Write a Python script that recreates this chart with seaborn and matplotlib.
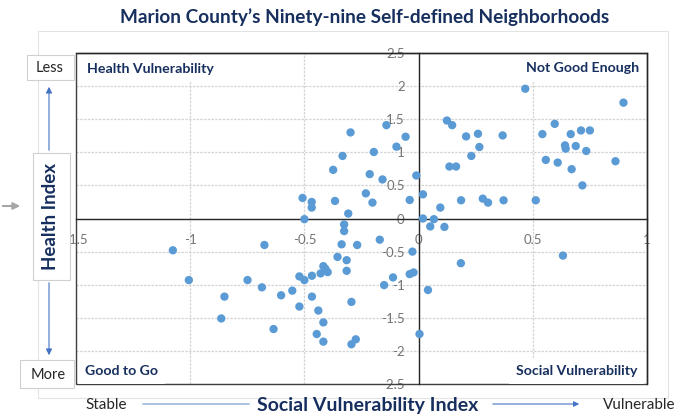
import matplotlib
matplotlib.use("Agg")
import matplotlib.pyplot as plt
import seaborn as sns
from matplotlib.patches import Rectangle, FancyArrowPatch

# social vulnerability index (x) and health index (y) for each neighborhood
social_index = [-1.076, -1.006, -0.85, -0.864, -0.749, -0.675, -0.686, -0.602, -0.635, -0.553,
                -0.522, -0.522, -0.50, -0.308, -0.326, -0.326, -0.337, -0.269, -0.17, -0.027,
                -0.355, -0.315, -0.315, -0.417, -0.398, -0.429, -0.467, -0.50, -0.112, -0.151,
                -0.039, -0.022, 0.041, -0.467, -0.294, -0.439, -0.417, -0.446, -0.417, -0.294,
                -0.275, 0.004, 0.019, 0.067, 0.051, -0.508, -0.468, -0.468, -0.366, -0.374,
                -0.333, -0.298, -0.214, -0.231, -0.202, -0.196, -0.158, -0.141, -0.097, -0.057,
                -0.039, -0.01, 0.019, 0.095, 0.467, 0.897, 0.124, 0.147, 0.208, 0.26,
                0.266, 0.368, 0.231, 0.135, 0.164, 0.186, 0.281, 0.304, 0.372, 0.513,
                0.542, 0.596, 0.666, 0.711, 0.75, 0.641, 0.644, 0.688, 0.734, 0.557,
                0.609, 0.67, 0.862, 0.717, 0.113, 0.185, 0.632, -0.408]
health_index = [-0.48, -0.93, -1.18, -1.51, -0.93, -0.40, -1.04, -1.16, -1.67, -1.09,
                -0.875, -1.33, -0.01, 0.075, -0.09, -0.19, -0.39, -0.40, -0.32, -0.50,
                -0.58, -0.63, -0.79, -0.72, -0.81, -0.83, -0.865, -0.93, -0.89, -1.006,
                -0.84, -0.815, -1.08, -1.18, -1.26, -1.39, -1.57, -1.745, -1.86, -1.90,
                -1.825, -1.745, 0.0, -0.01, -0.12, 0.31, 0.25, 0.165, 0.265, 0.735,
                0.945, 1.30, 0.67, 0.38, 0.24, 1.005, 0.59, 1.41, 1.085, 1.235,
                0.28, 0.65, 0.365, 0.165, 1.96, 1.75, 1.48, 1.41, 1.24, 1.28,
                1.08, 1.255, 0.945, 0.785, 0.785, 0.275, 0.30, 0.24, 0.275, 0.275,
                1.275, 1.43, 1.275, 1.33, 1.33, 1.105, 1.055, 1.095, 1.02, 0.885,
                0.845, 0.745, 0.865, 0.50, -0.127, -0.675, -0.56, -0.76]

x_ticks = [-1.5, -1, -0.5, 0, 0.5, 1]
y_ticks = [-2.5, -2, -1.5, -1, -0.5, 0, 0.5, 1, 1.5, 2, 2.5]

title = "Marion County\u2019s Ninety-nine Self-defined Neighborhoods"
navy = "#172F5E"
dot_blue = "#5B9BD5"
arrow_blue = "#4472C4"
box_gray = "#D0D0D0"

sns.set_style("white")
plt.rcParams['font.family'] = ['Lato', 'DejaVu Sans']
plt.rcParams['axes.unicode_minus'] = False

W, H = 682, 416
fig = plt.figure(figsize=(W / 100, H / 100), dpi=100)

# helpers to place things by pixel position in the 682x416 picture
def fx(px):
    return px / W

def fy(py):
    return 1 - py / H

ax = fig.add_axes([fx(76), fy(384), fx(647) - fx(76), fy(53) - fy(384)])

sns.scatterplot(x=social_index, y=health_index, ax=ax, color=dot_blue, s=36,
                edgecolor='none', linewidth=0, zorder=3)

ax.set_xlim(-1.5, 1)
ax.set_ylim(-2.5, 2.5)
ax.set_xticks(x_ticks)
ax.set_yticks(y_ticks)
ax.set_xticklabels([f"{t:g}" for t in x_ticks])
ax.set_yticklabels([f"{t:g}" for t in y_ticks])
ax.tick_params(length=0, labelsize=9.5, labelcolor='#737373')
ax.tick_params(axis='x', pad=11)
ax.tick_params(axis='y', pad=10)
ax.grid(True, color='#D4D4D4', linestyle=(0, (2, 1)), linewidth=0.9)
ax.set_axisbelow(True)

# excel style axes crossing at zero, with a frame round the plot
ax.spines['left'].set_position(('data', 0))
ax.spines['bottom'].set_position(('data', 0))
for s in ax.spines.values():
    s.set_color('#262626')
    s.set_linewidth(1.0)
ax.add_patch(Rectangle((0, 0), 1, 1, transform=ax.transAxes, fill=False,
                       ec='#404040', lw=1.0, clip_on=False, zorder=2))

# quadrant labels with white boxes
qbox = dict(boxstyle='square,pad=0.5', fc='white', ec='none')
ax.text(0.019, 0.952, "Health Vulnerability", transform=ax.transAxes, ha='left', va='center',
        fontsize=10.2, fontweight='bold', color=navy, bbox=qbox, zorder=5)
ax.text(0.986, 0.955, "Not Good Enough", transform=ax.transAxes, ha='right', va='center',
        fontsize=10.2, fontweight='bold', color=navy, bbox=qbox, zorder=5)
ax.text(0.016, 0.04, "Good to Go", transform=ax.transAxes, ha='left', va='center',
        fontsize=10.2, fontweight='bold', color=navy, bbox=qbox, zorder=5)
ax.text(0.983, 0.04, "Social Vulnerability", transform=ax.transAxes, ha='right', va='center',
        fontsize=10.2, fontweight='bold', color=navy, bbox=qbox, zorder=5)

# light chart border
fig.add_artist(Rectangle((fx(38), fy(398)), fx(668) - fx(38), fy(31) - fy(398),
                         transform=fig.transFigure, fill=False, ec='#E3E3E3', lw=0.8, zorder=0))

fig.text(fx(365), fy(17), title, ha='center', va='center', fontsize=13.7,
         fontweight='bold', color=navy)

# left side: health index label, less / more, arrows
fig.add_artist(Rectangle((fx(33), fy(280)), fx(70) - fx(33), fy(153) - fy(280),
                         transform=fig.transFigure, fc='white', ec=box_gray, lw=0.8))
fig.text(fx(50), fy(217), "Health Index", rotation=90, ha='center', va='center',
         fontsize=13.5, fontweight='bold', color=navy)
fig.add_artist(Rectangle((fx(27), fy(80)), fx(74) - fx(27), fy(55) - fy(80),
                         transform=fig.transFigure, fc='white', ec=box_gray, lw=0.8))
fig.text(fx(50), fy(68), "Less", ha='center', va='center', fontsize=10.5, color='#262626')
fig.add_artist(Rectangle((fx(20), fy(388)), fx(74) - fx(20), fy(360) - fy(388),
                         transform=fig.transFigure, fc='white', ec=box_gray, lw=0.8))
fig.text(fx(48), fy(375), "More", ha='center', va='center', fontsize=10.5, color='#262626')

fig.add_artist(FancyArrowPatch((fx(49), fy(153)), (fx(49), fy(84)), transform=fig.transFigure,
                               arrowstyle='-|>', mutation_scale=9, color=arrow_blue, lw=0.8))
fig.add_artist(FancyArrowPatch((fx(49), fy(280)), (fx(49), fy(358)), transform=fig.transFigure,
                               arrowstyle='-|>', mutation_scale=9, color=arrow_blue, lw=0.8))
fig.add_artist(FancyArrowPatch((fx(0), fy(206)), (fx(23), fy(206)), transform=fig.transFigure,
                               arrowstyle='-|>', mutation_scale=10, color='#A6A6A6', lw=1.5))

# bottom: stable -> social vulnerability index -> vulnerable
fig.text(fx(85), fy(405), "Stable", ha='left', va='center', fontsize=11, color='#262626')
fig.add_artist(FancyArrowPatch((fx(140), fy(404)), (fx(252), fy(404)), transform=fig.transFigure,
                               arrowstyle='-', color='#7F9FD4', lw=0.9))
fig.text(fx(368), fy(405), "Social Vulnerability Index", ha='center', va='center',
         fontsize=14, fontweight='bold', color=navy)
fig.add_artist(FancyArrowPatch((fx(490), fy(404)), (fx(582), fy(404)), transform=fig.transFigure,
                               arrowstyle='-|>', mutation_scale=8, color=arrow_blue, lw=0.8))
fig.text(fx(603), fy(405), "Vulnerable", ha='left', va='center', fontsize=11, color='#262626')

plt.savefig("out.png", dpi=100)
